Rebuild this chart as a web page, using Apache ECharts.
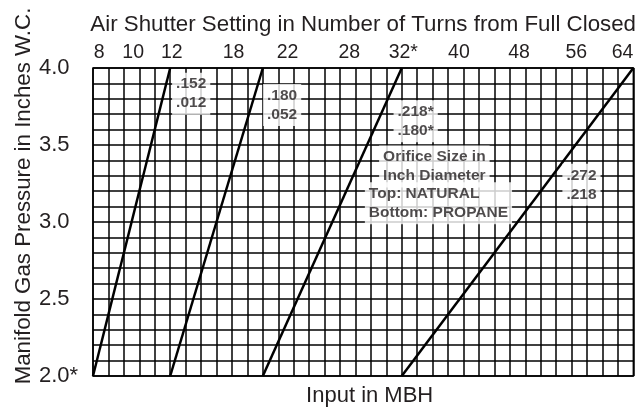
<!DOCTYPE html>
<html>
<head>
<meta charset="utf-8">
<script src="https://cdn.jsdelivr.net/npm/echarts@6/dist/echarts.min.js"></script>
<style>
  html, body { margin: 0; padding: 0; background: #fff; }
  #chart { width: 639px; height: 412px; }
</style>
</head>
<body>
<div id="chart"></div>
<script>
// input axis is counted in chart grid squares (no MBH scale printed)
const inputAtLow = [0, 5, 11, 20]     // where each orifice line starts (2.0 in. W.C.)
const inputAtHigh = [5, 11, 20, 35]   // where it reaches 4.0 in. W.C.
const pressureRange = [2.0, 4.0]

// air shutter turns printed along the top
const turnLabels = ['8', '10', '12', '18', '22', '28', '32*', '40', '48', '56', '64']
const turnAt = [0.4, 2.6, 5.1, 9.1, 12.6, 16.6, 20.1, 23.7, 27.6, 31.3, 34.3]

const pressureLabels = ['2.0*', '2.5', '3.0', '3.5', '4.0']
const pressureTicks = [2.0, 2.5, 3.0, 3.5, 4.0]

// orifice size notes
const noteText = ['.152\n.012', '.180\n.052', '.218*\n.180*', 'Orifice Size in\nInch Diameter', 'Top: NATURAL\nBottom: PROPANE', '.272\n.218']
const noteInput = [6.36, 12.25, 20.9, 22.11, 17.61, 31.64]
const notePressure = [3.833, 3.76, 3.655, 3.36, 3.121, 3.242]

const FONT = 'Liberation Sans'

const chart = echarts.init(document.getElementById('chart'))

const lineSeries = inputAtLow.map((x0, i) => ({
  type: 'line',
  xAxisIndex: 0,
  data: [[x0, pressureRange[0]], [inputAtHigh[i], pressureRange[1]]],
  symbol: 'none',
  lineStyle: { color: '#000', width: 2.5 },
  silent: true,
  z: 3
}))

chart.setOption({
  animation: false,
  backgroundColor: '#fff',
  grid: {
    left: 93, right: 2, top: 68, bottom: 33,
    show: true, borderColor: '#000', borderWidth: 1.5
  },
  xAxis: [{
    type: 'value',
    position: 'bottom',
    min: 0, max: 35, interval: 1,
    name: 'Input in MBH',
    nameLocation: 'middle',
    nameGap: 9,
    nameTextStyle: { fontFamily: FONT, fontSize: 22, color: '#231f20', padding: [0, 0, 0, 13] },
    axisLine: { show: false },
    axisTick: { show: false },
    axisLabel: { show: false },
    splitLine: { show: true, lineStyle: { color: '#000', width: 1.5 } }
  }, {
    type: 'value',
    position: 'top',
    min: 0, max: 35,
    name: 'Air Shutter Setting in Number of Turns from Full Closed',
    nameLocation: 'middle',
    nameGap: 32,
    nameTextStyle: { fontFamily: FONT, fontSize: 22.3, color: '#231f20' },
    axisLine: { show: false },
    axisTick: { show: false },
    splitLine: { show: false },
    axisLabel: {
      customValues: turnAt,
      formatter: v => turnLabels[turnAt.indexOf(v)],
      fontFamily: FONT, fontSize: 19.5, color: '#231f20', margin: 5
    }
  }],
  yAxis: {
    type: 'value',
    min: 2, max: 4, interval: 0.1,
    axisLine: { show: false },
    axisTick: { show: false },
    splitLine: { show: true, lineStyle: { color: '#000', width: 1.5 } },
    axisLabel: {
      customValues: pressureTicks,
      formatter: v => pressureLabels[pressureTicks.indexOf(v)],
      fontFamily: FONT, fontSize: 22, color: '#231f20',
      align: 'left', margin: 54, padding: [4, 0, 0, 0]
    }
  },
  graphic: [{
    type: 'text',
    x: 24, y: 196,
    rotation: Math.PI / 2,
    style: {
      text: 'Manifold Gas Pressure in Inches W.C.',
      font: '22.3px "Liberation Sans"',
      fill: '#231f20',
      align: 'center',
      verticalAlign: 'middle'
    }
  }],
  series: lineSeries.concat([{
    type: 'scatter',
    symbolSize: 0,
    silent: true,
    z: 5,
    data: noteText.map((t, i) => ({
      value: [noteInput[i], notePressure[i]],
      name: t,
      label: t.startsWith('Top') ? { align: 'left' } : {}
    })),
    label: {
      show: true,
      position: 'inside',
      formatter: p => p.name,
      fontFamily: FONT,
      fontWeight: 'bold',
      fontSize: 15.5,
      lineHeight: 19,
      color: '#231f20',
      backgroundColor: '#fff',
      padding: [2, 4]
    }
  }])
})
</script>
</body>
</html>
